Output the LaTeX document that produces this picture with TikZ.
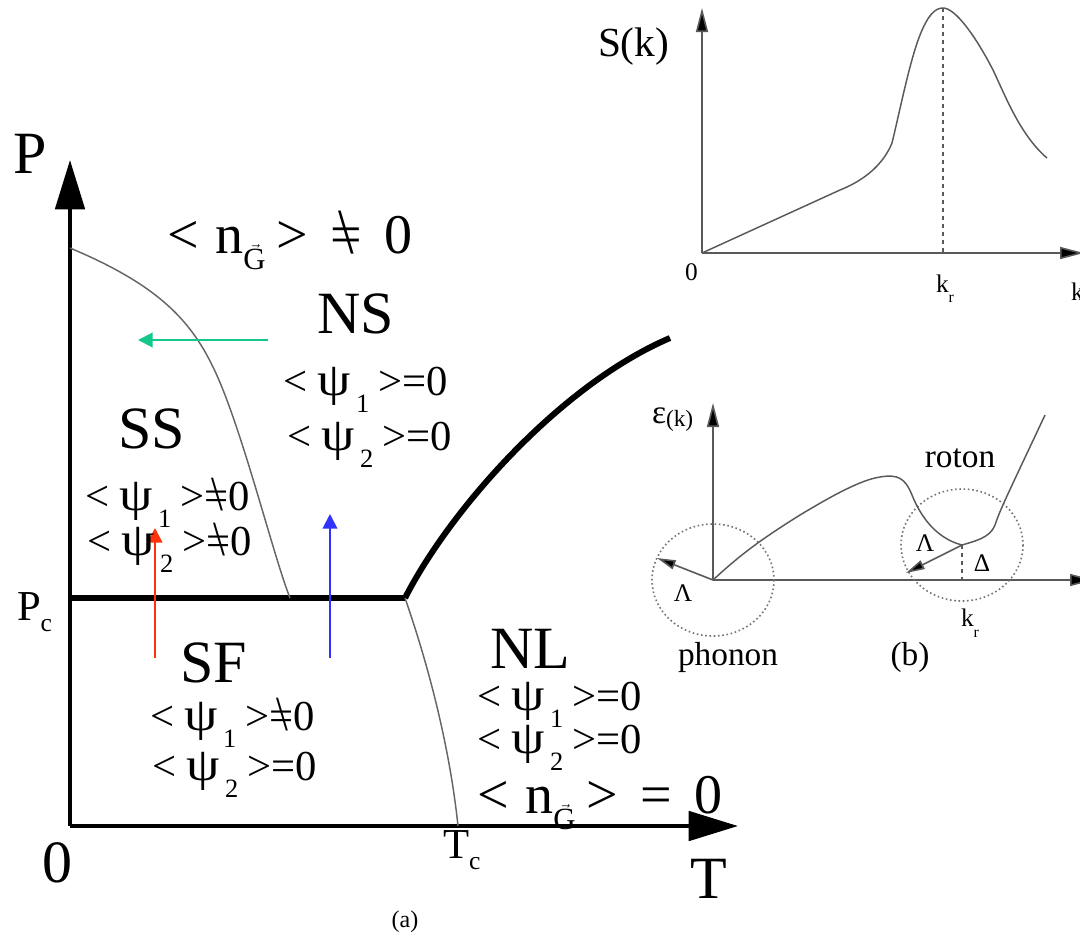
\documentclass[tikz,border=0pt]{standalone}
\usepackage{fontspec}
\setmainfont{Liberation Serif}
\usetikzlibrary{arrows.meta}
\newcommand\myfs[1]{\fontsize{#1}{#1}\selectfont}
\newcommand\lowsub[1]{\raisebox{-0.42em}{\scalebox{0.62}{#1}}}
\newcommand\csub[1]{\raisebox{-0.28em}{\scalebox{0.6}{#1}}}
\newcommand\nebs{\mbox{\ooalign{=\cr\hidewidth\scalebox{1}[1.15]{\textbackslash}\hidewidth}}}
\newcommand\psiline[2]{<\hspace{0.25em}\scalebox{1.25}[1.1]{ψ}\hspace{0.12em}\lowsub{#1}\hspace{0.22em}>#2}
\newcommand\nG{n\raisebox{-0.3em}{\scalebox{0.55}{$\vec{\mbox{G}}$}}}
\newcommand\nline[1]{<\hspace{0.3em}\nG\hspace{0.2em}>\hspace{0.4em}#1\hspace{0.4em}0}
\begin{document}
\begin{tikzpicture}[x=0.75pt,y=-0.75pt,
  every node/.style={inner sep=0pt, outer sep=0pt},
  big/.style={font=\myfs{45}},
  psi/.style={font=\myfs{32}},
  nlab/.style={font=\myfs{42}},
  mid/.style={font=\myfs{32}},
  small/.style={font=\myfs{18}},
  rlab/.style={font=\myfs{25}},
  rsmall/.style={font=\myfs{19}},
  axis/.style={line width=3pt, -{Triangle[length=37pt,width=22pt]}},
  thickb/.style={line width=4.5pt},
  thinb/.style={line width=1.1pt, draw=black!60},
  raxis/.style={line width=1.2pt, draw=black!65, -{Triangle[length=18pt,width=9pt,fill=black]}},
  rcurve/.style={line width=1.1pt, draw=black!65},
  dotc/.style={line width=1.2pt, draw=black!55, dotted},
  carrow/.style={line width=1.5pt, -{Triangle[length=11pt,width=11pt]}}
]
\useasboundingbox (0,0) rectangle (1080,946);

% ---------- main phase diagram ----------
\coordinate (O) at (70,826);
\coordinate (Ptop) at (70,160);
\coordinate (Tend) at (738,826);
\coordinate (Pc) at (70,598);
\coordinate (Tri) at (405,598);
\coordinate (Tc) at (458,826);
\coordinate (Ltop) at (70,248);
\coordinate (SSb) at (290,598);
\coordinate (Lend) at (670,338);

\draw[axis] (O) -- (Ptop);
\draw[axis] (O) -- (Tend);
\draw[thickb] (Pc) -- (Tri);
\draw[thickb] (Tri) .. controls (450,510) and (560,385) .. (Lend);
\draw[thinb] (Tri) .. controls (430,670) and (450,750) .. (Tc);
\draw[thinb] (Ltop) .. controls (170,290) and (200,330) .. (225,395)
  .. controls (250,460) and (275,560) .. (SSb);

% coloured arrows
\coordinate (g1) at (268,340); \coordinate (g2) at (138,340);
\coordinate (r1) at (155,658); \coordinate (r2) at (155,528);
\coordinate (b1) at (330,658); \coordinate (b2) at (330,514);
\draw[carrow, draw={rgb,255:red,20;green,200;blue,140}, fill={rgb,255:red,20;green,200;blue,140}] (g1) -- (g2);
\draw[carrow, draw={rgb,255:red,255;green,50;blue,10}, fill={rgb,255:red,255;green,50;blue,10}] (r1) -- (r2);
\draw[carrow, draw={rgb,255:red,50;green,50;blue,255}, fill={rgb,255:red,50;green,50;blue,255}] (b1) -- (b2);

% labels
\node[big, anchor=base west] (lP) at (13,173) {P};
\node[big, anchor=base west] (l0) at (42,882) {0};
\node[big, anchor=base west] (lT) at (690,898) {T};
\node[mid, anchor=base west] (lPc) at (17,620) {P\csub{c}};
\node[mid, anchor=base west] (lTc) at (443,858) {T\csub{c}};
\node[small] (la) at (405,922) {(a)};

\node[nlab, anchor=base west] (ntop) at (167,253) {\nline{\nebs}};
\node[big, anchor=base west] (lNS) at (317,333) {NS};
\node[psi, anchor=base west] (ns1) at (283,395) {\psiline{1}{=0}};
\node[psi, anchor=base west] (ns2) at (287,450) {\psiline{2}{=0}};
\node[big, anchor=base west] (lSS) at (118,448) {SS};
\node[psi, anchor=base west] (ss1) at (85,510) {\psiline{1}{\nebs0}};
\node[psi, anchor=base west] (ss2) at (87,555) {\psiline{2}{\nebs0}};
\node[big, anchor=base west] (lSF) at (180,682) {SF};
\node[psi, anchor=base west] (sf1) at (150,730) {\psiline{1}{\nebs0}};
\node[psi, anchor=base west] (sf2) at (152,780) {\psiline{2}{=0}};
\node[big, anchor=base west] (lNL) at (490,668) {NL};
\node[psi, anchor=base west] (nl1) at (477,710) {\psiline{1}{=0}};
\node[psi, anchor=base west] (nl2) at (477,753) {\psiline{2}{=0}};
\node[nlab, anchor=base west] (nbot) at (477,813) {\nline{=}};

% ---------- S(k) panel ----------
\coordinate (SO) at (702,253);
\coordinate (Sy) at (702,8);
\coordinate (Sx) at (1084,253);
\coordinate (Speak) at (943,8);
\coordinate (Skr) at (943,253);
\draw[raxis] (SO) -- (Sy);
\draw[raxis] (SO) -- (Sx);
\draw[rcurve, dashed] (Speak) -- (Skr);
\draw[rcurve] (SO) -- (840,190) .. controls (870,178) and (885,160) .. (892,143)
  .. controls (900,110) and (910,60) .. (920,35)
  .. controls (928,15) and (935,8) .. (Speak)
  .. controls (955,8) and (975,35) .. (993,70)
  .. controls (1005,95) and (1020,135) .. (1047,158);
\node[rlab, anchor=base west, font=\myfs{31}] (lSk) at (598,56) {S(k)};
\node[rsmall, anchor=base west] (lS0) at (685,280) {0};
\node[rsmall, anchor=base west] (lkr1) at (936,292) {k\lowsub{r}};
\node[rsmall, anchor=base west] (lk) at (1071,300) {k};

% ---------- epsilon(k) panel ----------
\coordinate (EO) at (713,580);
\coordinate (Ey) at (713,403);
\coordinate (Ex) at (1094,580);
\coordinate (Emin) at (962,545);
\coordinate (Ekr) at (962,580);
\draw[raxis] (EO) -- (Ey);
\draw[raxis] (EO) -- (Ex);
\draw[dotc] (EO) ellipse [x radius=61, y radius=56];
\draw[dotc] (Emin) ellipse [x radius=61, y radius=56];
\draw[rcurve] (EO) .. controls (740,555) and (760,540) .. (800,515)
  .. controls (830,497) and (860,480) .. (880,477)
  .. controls (898,474) and (905,478) .. (912,495)
  .. controls (920,515) and (935,538) .. (Emin)
  .. controls (975,541) and (990,538) .. (995,525)
  .. controls (1000,510) and (1005,500) .. (1045,415);
\draw[rcurve, dashed] (Emin) -- (Ekr);
\coordinate (Lam1) at (657,558);
\coordinate (Lam2) at (906,573);
\draw[line width=1.2pt, draw=black!65, -{Triangle[length=14pt,width=7pt,fill=black]}] (EO) -- (Lam1);
\draw[line width=1.2pt, draw=black!65, -{Triangle[length=14pt,width=7pt,fill=black]}] (Emin) -- (Lam2);
\node[rlab, anchor=base west] (leps) at (652,423) {ε\raisebox{-0.1em}{\scalebox{0.7}{(k)}}};
\node[rlab] (lroton) at (960,458) {roton};
\node[rlab] (lphonon) at (728,657) {phonon};
\node[rlab] (lb) at (910,657) {(b)};
\node[rsmall] (lL1) at (683,593) {Λ};
\node[rsmall] (lL2) at (925,543) {Λ};
\node[rsmall] (lD) at (982,563) {Δ};
\node[rsmall] (lkr2) at (970,623) {k\lowsub{r}};
\end{tikzpicture}
\end{document}
